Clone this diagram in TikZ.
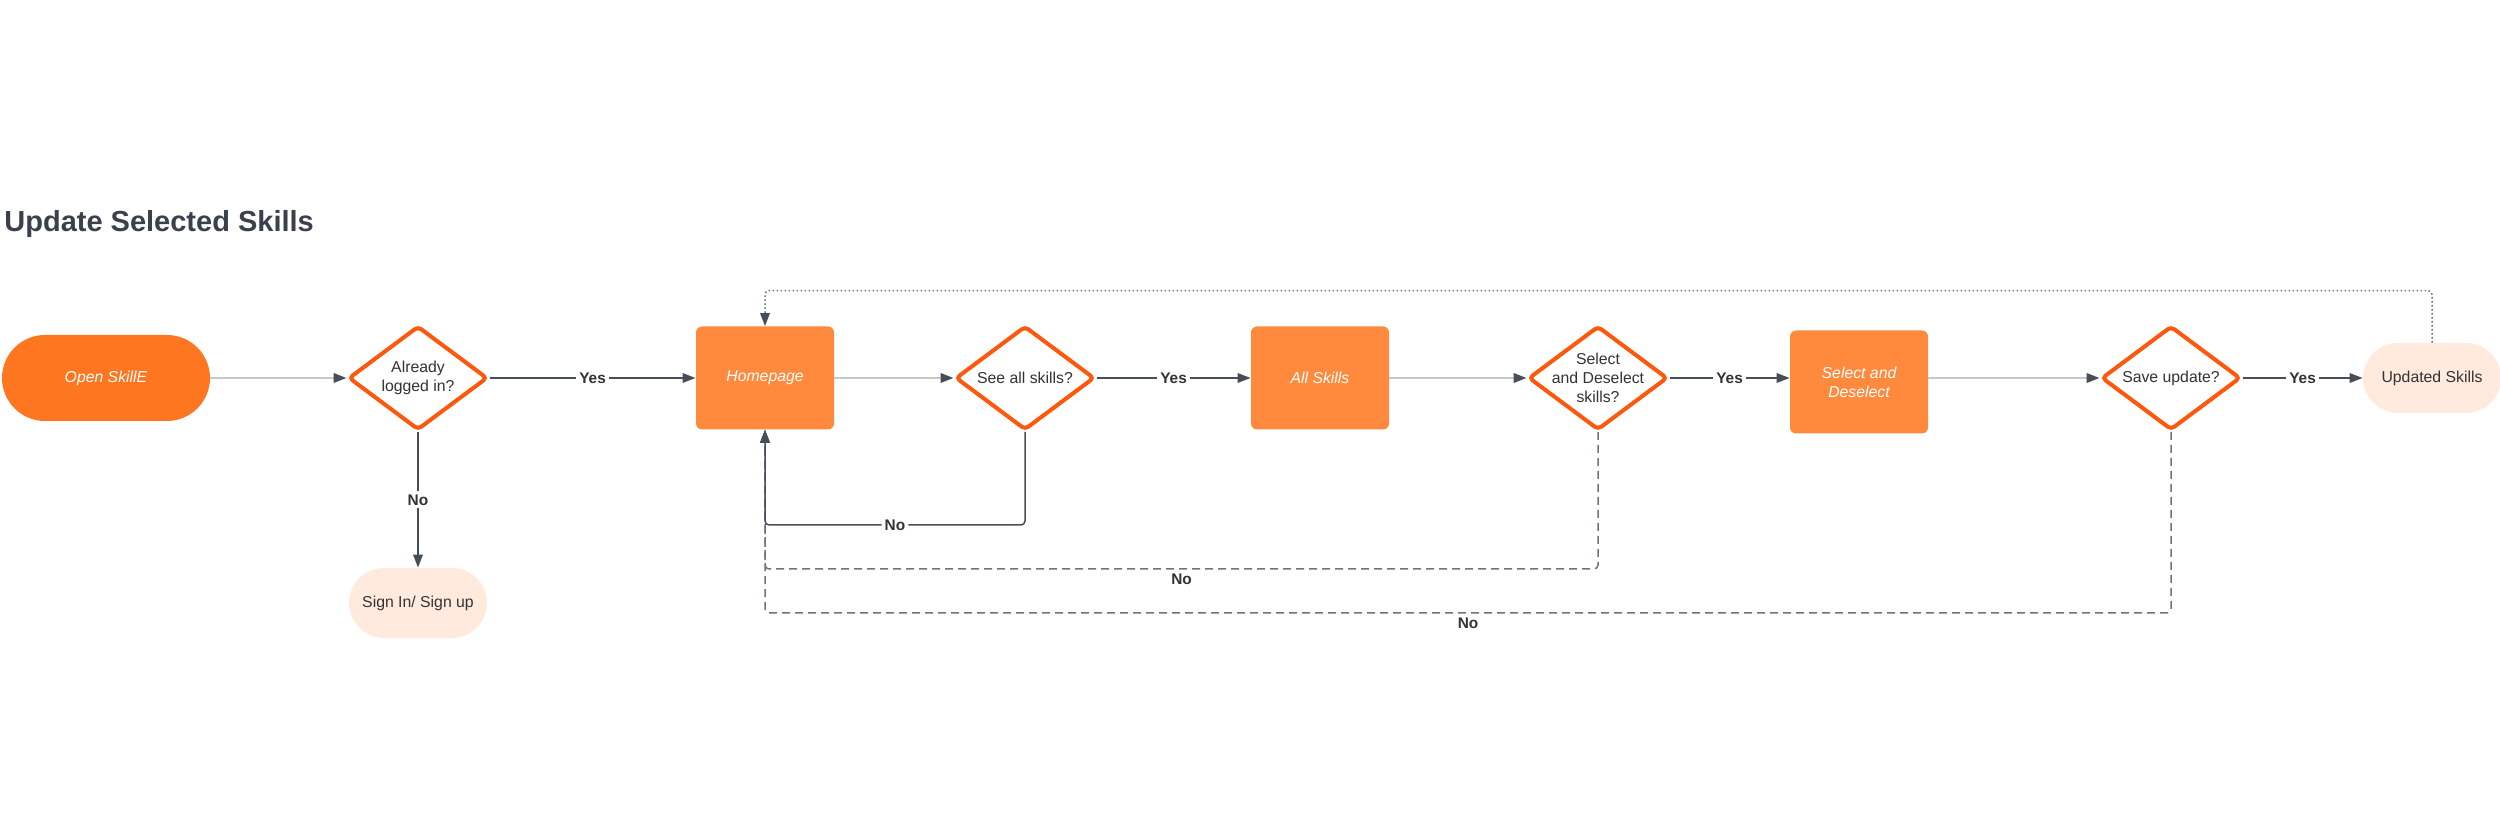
\documentclass[tikz,border=0pt]{standalone}
\usepackage{fontspec}
\setmainfont{Liberation Sans}
\usetikzlibrary{shapes.geometric, arrows.meta}

\definecolor{darktext}{RGB}{58,65,76}
\definecolor{nodetext}{RGB}{51,51,51}
\definecolor{darkline}{RGB}{72,78,88}
\definecolor{lightline}{RGB}{198,200,204}
\definecolor{loopline}{RGB}{110,115,124}
\definecolor{startorange}{RGB}{255,118,32}
\definecolor{boxorange}{RGB}{255,138,61}
\definecolor{edgeorange}{RGB}{255,88,12}
\definecolor{peach}{RGB}{255,234,221}

\begin{document}
\begin{tikzpicture}[node distance=150pt]
        \tikzstyle{title} = [anchor=base west, inner sep=0pt, text=darktext, font=\fontsize{14.5}{17}\selectfont\bfseries]
        \tikzstyle{startstop} = [rectangle, rounded corners=21.5pt, minimum width=104pt, minimum height=43pt, text centered, fill=startorange, text=white, font=\fontsize{7.9}{9.5}\selectfont\itshape]
        \tikzstyle{endstop} = [rectangle, rounded corners=17.5pt, minimum width=69pt, minimum height=35pt, text centered, fill=peach, text=nodetext, font=\fontsize{7.9}{9.5}\selectfont]
        \tikzstyle{process} = [rectangle, rounded corners=3pt, minimum width=69pt, minimum height=51.5pt, align=center, fill=boxorange, text=white, font=\fontsize{7.9}{9.5}\selectfont\itshape]
        \tikzstyle{decision} = [diamond, rounded corners=2pt, minimum width=69.5pt, minimum height=52pt, inner sep=-8pt, align=center, draw=edgeorange, line width=2pt, fill=white, text=nodetext, font=\fontsize{7.9}{9.5}\selectfont]
        \tikzstyle{arrow} = [draw=darkline, line width=0.75pt, -{Triangle[length=6.5pt, width=4.8pt]}]
        \tikzstyle{flow} = [draw=lightline, line width=1pt, -{Triangle[length=6.5pt, width=4.8pt, color=darkline]}]
        \tikzstyle{back} = [draw=darkline, line width=0.75pt, rounded corners=2pt, -{Triangle[length=6.5pt, width=4.8pt, color=darkline]}]
        \tikzstyle{dashback} = [back, draw=loopline, dash pattern=on 4pt off 2.5pt]
        \tikzstyle{dotback} = [back, draw=loopline, dash pattern=on 0.8pt off 1.2pt]
        \tikzstyle{answer} = [fill=white, inner sep=1.5pt, text=nodetext, font=\fontsize{7.7}{9}\selectfont\bfseries]
        \tikzstyle{answerbelow} = [below, inner sep=2pt, text=nodetext, font=\fontsize{7.7}{9}\selectfont\bfseries]

        \useasboundingbox (0,0) rectangle (1250pt,-411pt);

        \node (title) [title] at (2pt,-116pt) {Update Selected Skills};

        \node (start) [startstop] at (53pt,-189pt) {Open SkillE};
        \node (login) [decision, right of=start, xshift=6pt] {Already\\logged in?};
        \node (signin) [endstop, below of=login, yshift=37.5pt] {Sign In/ Sign up};
        \node (home) [process, right of=login, xshift=23.5pt] {Homepage};
        \node (seeall) [decision, right of=home, xshift=-20pt] {See all skills?};
        \node (allskills) [process, right of=seeall, xshift=-2.5pt] {All Skills};
        \node (selectq) [decision, right of=allskills, xshift=-11pt] {Select\\and Deselect\\skills?};
        \node (select) [process, right of=selectq, xshift=-19.5pt, yshift=-2pt] {Select and\\Deselect};
        \node (save) [decision, right of=select, xshift=6pt, yshift=2pt] {Save update?};
        \node (updated) [endstop, right of=save, xshift=-19.5pt] {Updated Skills};

        \draw [flow] (start) -- (login);
        \draw [arrow] (login) -- node[answer] {Yes} (home);
        \draw [arrow] (login) -- node[answer] {No} (signin);
        \draw [flow] (home) -- (seeall);
        \draw [arrow] (seeall) -- node[answer] {Yes} (allskills);
        \draw [flow] (allskills) -- (selectq);
        \draw [arrow] (selectq.east) -- node[answer] {Yes} (selectq.east -| select.west);
        \draw [flow] (save.west -| select.east) -- (save);
        \draw [arrow] (save) -- node[answer] {Yes} (updated);

        % loops back to the homepage
        \draw [dashback] (save.south) -- ++(0,-90.5pt) -| node[answerbelow, pos=0.25] {No} (home.south);
        \draw [dashback] (selectq.south) -- ++(0,-68.5pt) -| node[answerbelow, pos=0.25] {No} (home.south);
        \draw [back] (seeall.south) -- ++(0,-46.5pt) -| node[answer, pos=0.25] {No} (home.south);
        \draw [dotback] (updated.north) -- ++(0,26pt) -| (home.north);
    \end{tikzpicture}
\end{document}
